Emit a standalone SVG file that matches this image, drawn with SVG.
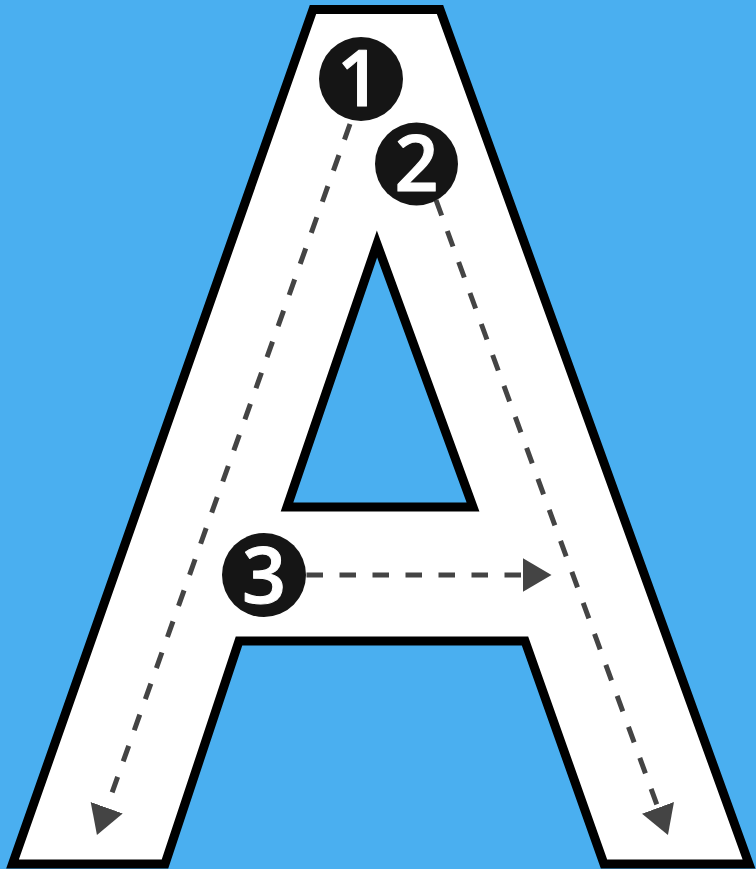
<svg xmlns="http://www.w3.org/2000/svg" width="756" height="869" viewBox="0 0 756 869">
  <style>
    .letter { fill: #ffffff; stroke: #000000; stroke-width: 9; stroke-linejoin: miter; stroke-miterlimit: 10; }
    .hole { fill: #4aaff0; stroke: #000000; stroke-width: 9; stroke-linejoin: miter; stroke-miterlimit: 10; }
    .guide { fill: none; stroke: #444444; stroke-width: 5; stroke-dasharray: 16.5 16.5; }
    .badge circle { fill: #151515; }
    .badge text { fill: #ffffff; stroke: #ffffff; stroke-width: 1; stroke-linejoin: round; font-family: "Open Sans", "DejaVu Sans", sans-serif; font-weight: 600; font-size: 77px; text-anchor: middle; }
  </style>
  <defs>
    <marker id="arrow" markerUnits="userSpaceOnUse" markerWidth="30" markerHeight="34" refX="0" refY="17" orient="auto" viewBox="0 0 30 34">
      <path d="M0,0 L29,17 L0,34 Z" fill="#444444"/>
    </marker>
  </defs>
  <rect x="0" y="0" width="756" height="869" fill="#4aaff0"/>
  <g id="letter-A">
    <polygon class="letter" points="313,9.5 440,9.5 749,864 604,864 525,641 239,641 165,864 12.5,864"/>
    <polygon class="hole" points="377,244 473,507 287,507"/>
  </g>
  <g id="connectors">
    <line class="guide" x1="350" y1="124" x2="106.7" y2="807.7" marker-end="url(#arrow)"/>
    <line class="guide" x1="436" y1="200" x2="658" y2="807.8" marker-end="url(#arrow)"/>
    <line class="guide" x1="306.5" y1="575" x2="522.5" y2="575" marker-end="url(#arrow)"/>
  </g>
  <g id="badge-1" class="badge">
    <circle cx="361" cy="79" r="42"/>
    <text x="359" y="106">1</text>
  </g>
  <g id="badge-2" class="badge">
    <circle cx="416.5" cy="164" r="41.5"/>
    <text x="416.5" y="191">2</text>
  </g>
  <g id="badge-3" class="badge">
    <circle cx="264" cy="575" r="42"/>
    <text x="264" y="603">3</text>
  </g>
</svg>
